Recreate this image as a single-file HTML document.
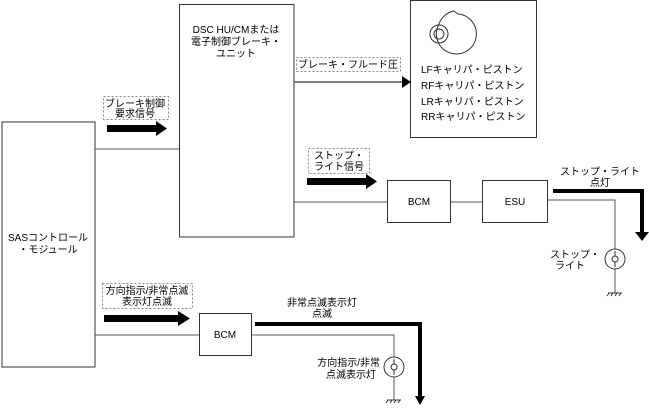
<!DOCTYPE html>
<html><head><meta charset="utf-8"><style>
body{margin:0;background:#fff}
svg text{font-family:"Liberation Sans","Noto Sans CJK JP",sans-serif;font-size:10px;fill:#000}
</style></head><body>
<svg width="649" height="407" viewBox="0 0 649 407" xmlns="http://www.w3.org/2000/svg">
<g fill="#fff" stroke="#333" stroke-width="1">
<rect x="2" y="122" width="93" height="245"/>
<rect x="179.5" y="4.5" width="114.5" height="232.5"/>
<rect x="410.5" y="0.5" width="126" height="137"/>
<rect x="387.5" y="180.5" width="63" height="42"/>
<rect x="482.5" y="180.5" width="65" height="42"/>
<rect x="199.5" y="313.5" width="52" height="42"/>
</g>
<g stroke="#555" stroke-width="1" fill="none">
<line x1="95" y1="149" x2="179" y2="149"/>
<line x1="294" y1="202" x2="387" y2="202"/>
<line x1="294" y1="82" x2="403" y2="82" stroke-width="1.5"/>
<line x1="451" y1="202" x2="482" y2="202"/>
<polyline points="547,200 615,200 615,249"/>
<line x1="615" y1="269" x2="615" y2="293"/>
<line x1="95" y1="335" x2="199" y2="335"/>
<polyline points="251,335 394,335 394,357"/>
<line x1="394" y1="377" x2="394" y2="400"/>
</g>
<polygon points="402,76 411,82 402,88" fill="#000"/>
<g stroke="#888" stroke-dasharray="2,2" fill="none">
<rect x="103.5" y="96.5" width="65" height="23"/>
<rect x="296.5" y="57.5" width="104" height="14"/>
<rect x="308.5" y="148.5" width="61" height="25"/>
<rect x="102.5" y="283.5" width="90" height="25"/>
</g>
<g fill="#000">
<rect x="107" y="125" width="50" height="7"/><polygon points="156,121 167,128.5 156,136"/>
<rect x="307" y="178" width="60" height="7"/><polygon points="366,174 377,181.5 366,189"/>
<rect x="104" y="315" width="75" height="7"/><polygon points="178,311 190,318.5 178,326"/>
<polygon points="638,232 646,232 646,232 649,232 642,241 635,232"/>
<polygon points="415,396 425,396 420,405"/>
</g>
<g stroke="#000" stroke-width="4" fill="none">
<polyline points="553,191 642,191 642,234"/>
<polyline points="255,324 420,324 420,398"/>
</g>
<g stroke="#333" fill="none">
<circle cx="615" cy="259" r="10"/>
<circle cx="394" cy="367" r="10"/>
<path d="M615,251 v5 a3,3 0 1 0 0.1,0 M615,262 v5"/>
<path d="M394,359 v5 a3,3 0 1 0 0.1,0 M394,370 v5"/>
<path d="M608,293 h14 M609,293 l-2,3 M613,293 l-2,3 M617,293 l-2,3 M621,293 l-2,3"/>
<path d="M387,400 h14 M388,400 l-2,3 M392,400 l-2,3 M396,400 l-2,3 M400,400 l-2,3"/>
</g>
<g transform="translate(437,28)" stroke="#333" fill="none">
<path d="M2,-4 A20,20 0 1 0 21,-14 L17,-17 A20,20 0 0 0 2,-4 Z" fill="#fff"/>
<circle cx="0" cy="0" r="22" stroke="none"/>
<path d="M-1,4 a20,20 0 0 0 0,0"/>
<circle cx="2" cy="6" r="9"/><circle cx="2" cy="6" r="5"/>
</g>
<g text-anchor="middle">
<text x="236" y="33">DSC HU/CMまたは</text>
<text x="236" y="45">電子制御ブレーキ・</text>
<text x="236" y="57">ユニット</text>
<text x="135" y="107">ブレーキ制御</text>
<text x="135" y="117">要求信号</text>
<text x="348" y="68">ブレーキ・フルード圧</text>
<text x="339" y="159">ストップ・</text>
<text x="339" y="170">ライト信号</text>
<text x="147" y="294">方向指示/非常点滅</text>
<text x="147" y="305">表示灯点滅</text>
<text x="48" y="241">SASコントロール</text>
<text x="48" y="253">・モジュール</text>
<text x="419" y="205">BCM</text>
<text x="515" y="205">ESU</text>
<text x="225" y="338">BCM</text>
<text x="600" y="175">ストップ・ライト</text>
<text x="600" y="186">点灯</text>
<text x="322" y="306">非常点滅表示灯</text>
<text x="322" y="317">点滅</text>
</g>
<g text-anchor="end">
<text x="600" y="258">ストップ・</text>
<text x="585" y="269">ライト</text>
<text x="380" y="366">方向指示/非常</text>
<text x="376" y="378">点滅表示灯</text>
</g>
<text x="421" y="73">LFキャリパ・ピストン</text>
<text x="421" y="89">RFキャリパ・ピストン</text>
<text x="421" y="105">LRキャリパ・ピストン</text>
<text x="421" y="120">RRキャリパ・ピストン</text>
</svg>
</body></html>
